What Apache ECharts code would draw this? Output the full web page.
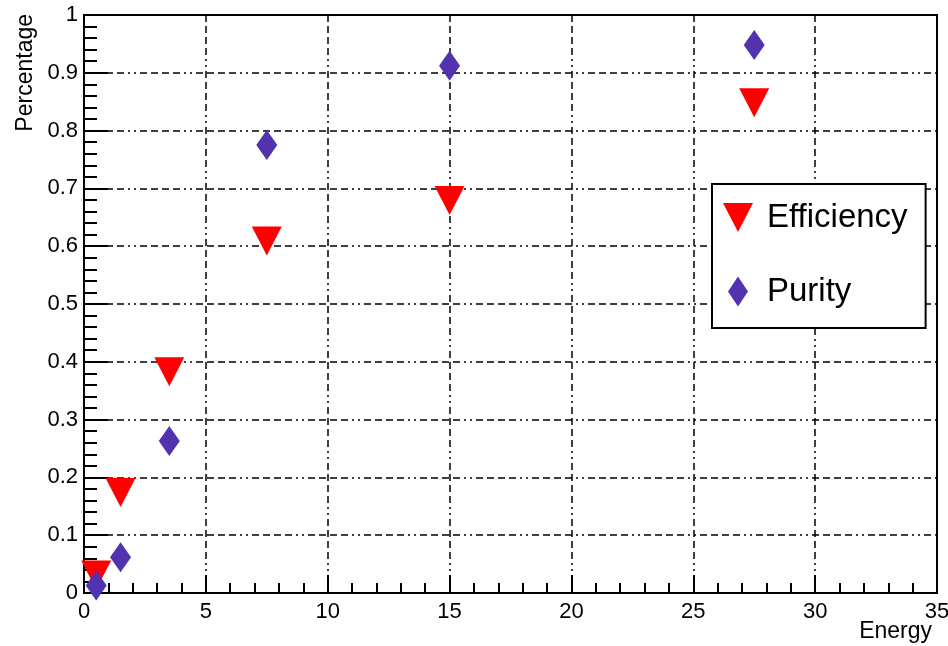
<!DOCTYPE html>
<html>
<head>
<meta charset="utf-8">
<script src="https://cdn.jsdelivr.net/npm/echarts@6/dist/echarts.min.js"></script>
<style>
html,body{margin:0;padding:0;background:#fff;}
#chart{width:948px;height:646px;}
</style>
</head>
<body>
<div id="chart"></div>
<script>
var energy = [0.5, 1.5, 3.5, 7.5, 15, 27.5];
var efficiency = [0.031, 0.174, 0.383, 0.609, 0.679, 0.848];
var purity = [0.013, 0.062, 0.263, 0.775, 0.912, 0.948];
var seriesNames = ['Efficiency', 'Purity'];
var xTitle = 'Energy';
var yTitle = 'Percentage';

var triDown = 'path://M0,0L30,0L15,29Z';
var diamondIcon = 'path://M10,0L20,15L10,30L0,15Z';
var FONT = 'Liberation Sans';
var gridDash = [7,4,7,4,7,4,7,4,2,4,2,4];

function pairs(xs, ys){ return xs.map(function(x,i){ return [x, ys[i]]; }); }

var chart = echarts.init(document.getElementById('chart'), null, {renderer:'canvas'});
chart.setOption({
  animation: false,
  backgroundColor: '#fff',
  grid: {left: 84, right: 11, top: 15, bottom: 53, outerBoundsMode: 'none', containLabel: false,
         show: true, borderColor: '#000', borderWidth: 2, backgroundColor: 'transparent'},
  xAxis: {
    type: 'value', min: 0, max: 35, interval: 5,
    name: xTitle, nameLocation: 'end', nameGap: -5, nameMoveOverlap: false,
    nameTextStyle: {fontFamily: FONT, fontSize: 23, color: '#000', align: 'right', verticalAlign: 'top', padding: [27,0,0,0]},
    axisLine: {show: true, onZero: false, lineStyle: {color: '#000', width: 2}},
    axisTick: {show: true, inside: true, length: 18, lineStyle: {color: '#000', width: 2}},
    minorTick: {show: true, splitNumber: 5, length: 10, lineStyle: {color: '#000', width: 2}},
    axisLabel: {fontFamily: FONT, fontSize: 22, color: '#000', margin: 8},
    splitLine: {show: true, lineStyle: {color: '#000', width: 1.5, type: gridDash}}
  },
  yAxis: {
    type: 'value', min: 0, max: 1, interval: 0.1,
    name: yTitle, nameLocation: 'end', nameGap: 1, nameRotate: 90, nameMoveOverlap: false,
    nameTextStyle: {fontFamily: FONT, fontSize: 23, color: '#000', align: 'right', verticalAlign: 'bottom', padding: [0,0,47,0]},
    axisLine: {show: true, onZero: false, lineStyle: {color: '#000', width: 2}},
    axisTick: {show: true, inside: true, length: 24, lineStyle: {color: '#000', width: 2}},
    minorTick: {show: true, splitNumber: 5, length: 13, lineStyle: {color: '#000', width: 2}},
    axisLabel: {fontFamily: FONT, fontSize: 22, color: '#000', margin: 6},
    splitLine: {show: true, lineStyle: {color: '#000', width: 1.5, type: gridDash}}
  },
  legend: {
    orient: 'vertical', left: 712, top: 184,
    padding: [17, 18, 20, 11],
    itemWidth: 30, itemHeight: 30, itemGap: 41,
    borderColor: '#000', borderWidth: 2, backgroundColor: '#fff',
    symbolKeepAspect: true,
    textStyle: {fontFamily: FONT, fontSize: 33, color: '#000', lineHeight: 32, padding: [0,0,0,9]},
    data: [{name: seriesNames[0], icon: triDown}, {name: seriesNames[1], icon: diamondIcon}]
  },
  series: [
    {name: seriesNames[0], type: 'scatter', data: pairs(energy, efficiency),
     symbol: triDown, symbolSize: [30, 29],
     itemStyle: {color: '#ff0000', opacity: 1}, z: 3},
    {name: seriesNames[1], type: 'scatter', data: pairs(energy, purity),
     symbol: 'diamond', symbolSize: [21, 30],
     itemStyle: {color: '#5232ae', opacity: 1}, z: 4}
  ]
});
</script>
</body>
</html>
